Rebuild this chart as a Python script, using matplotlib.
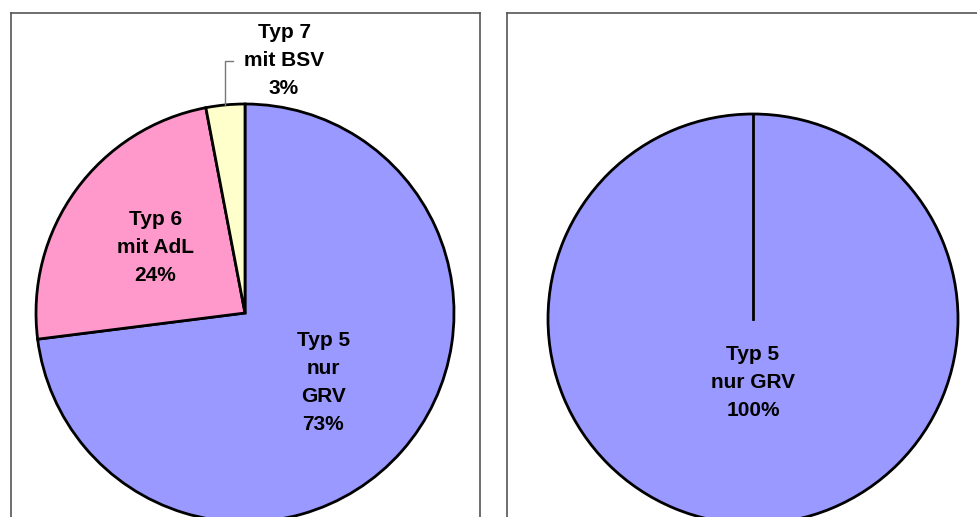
import numpy as np
import matplotlib
matplotlib.use("Agg")
import matplotlib.pyplot as plt

plt.rcParams['font.family'] = ['Liberation Sans', 'DejaVu Sans']

left_labels = ["Typ 5\nnur\nGRV", "Typ 6\nmit AdL", "Typ 7\nmit BSV"]
left_values = [73, 24, 3]
left_colors = ["#9999FF", "#FF99CC", "#FFFFCC"]

right_labels = ["Typ 5\nnur GRV"]
right_values = [100]
right_colors = ["#9999FF"]

W, H = 978, 517
fig = plt.figure(figsize=(W / 100, H / 100), dpi=100)
fig.patch.set_facecolor("white")

FS = 15
LS = 1.6
EW = 2.0


def make_axes(x0, x1, y_top, y_bot):
    ax = fig.add_axes([x0 / W, (H - y_bot) / H, (x1 - x0) / W, (y_bot - y_top) / H])
    return ax


def finish(ax, x0, x1, y_top, y_bot, cx, cy, r):
    ax.set_xlim((x0 - cx) / r, (x1 - cx) / r)
    ax.set_ylim(-(y_bot - cy) / r, (cy - y_top) / r)
    ax.set_aspect("auto")
    ax.set_xticks([])
    ax.set_yticks([])
    for s in ax.spines.values():
        s.set_color("#555555")
        s.set_linewidth(1.2)


# Left panel
ax1 = make_axes(10.5, 480, 13, 540)
wedges1, _ = ax1.pie(left_values, colors=left_colors, startangle=90, counterclock=False,
                     radius=1.0, center=(0, 0), frame=True,
                     wedgeprops=dict(edgecolor="black", linewidth=EW))
finish(ax1, 10.5, 480, 13, 540, 245, 313, 209)

dists = [0.5, 0.53]
for w, lab, val, d in zip(wedges1[:2], left_labels[:2], left_values[:2], dists):
    mid = np.deg2rad((w.theta1 + w.theta2) / 2)
    ax1.text(d * np.cos(mid), d * np.sin(mid), f"{lab}\n{val}%", ha="center", va="center",
             fontsize=FS, fontweight="bold", linespacing=LS, color="black")

# small slice label with leader line
w = wedges1[2]
mid = np.deg2rad((w.theta1 + w.theta2) / 2)
ex, ey = np.cos(mid), np.sin(mid)
ty = (313 - 61) / 209
tx = (284 - 245) / 209
hx = (233 - 245) / 209
ax1.plot([ex, ex, hx], [ey, ty, ty], color="#777777", linewidth=1.0)
ax1.text(tx, ty, f"{left_labels[2]}\n{left_values[2]}%", ha="center", va="center",
         fontsize=FS, fontweight="bold", linespacing=LS, color="black")

# Right panel
ax2 = make_axes(507, 1000, 13, 540)
wedges2, _ = ax2.pie(right_values, colors=right_colors, startangle=90, counterclock=False,
                     radius=1.0, center=(0, 0), frame=True,
                     wedgeprops=dict(edgecolor="black", linewidth=EW))
finish(ax2, 507, 1000, 13, 540, 753, 319, 205)
# radial boundary line of the full wedge
t = np.deg2rad(wedges2[0].theta1)
ax2.plot([0, np.cos(t)], [0, np.sin(t)], color="black", linewidth=EW)
mid = np.deg2rad(wedges2[0].theta1 - 180)
ax2.text(0.31 * np.cos(mid), 0.31 * np.sin(mid), f"{right_labels[0]}\n{right_values[0]}%",
         ha="center", va="center", fontsize=FS, fontweight="bold", linespacing=LS, color="black")

fig.savefig("out.png", dpi=100, facecolor="white")
